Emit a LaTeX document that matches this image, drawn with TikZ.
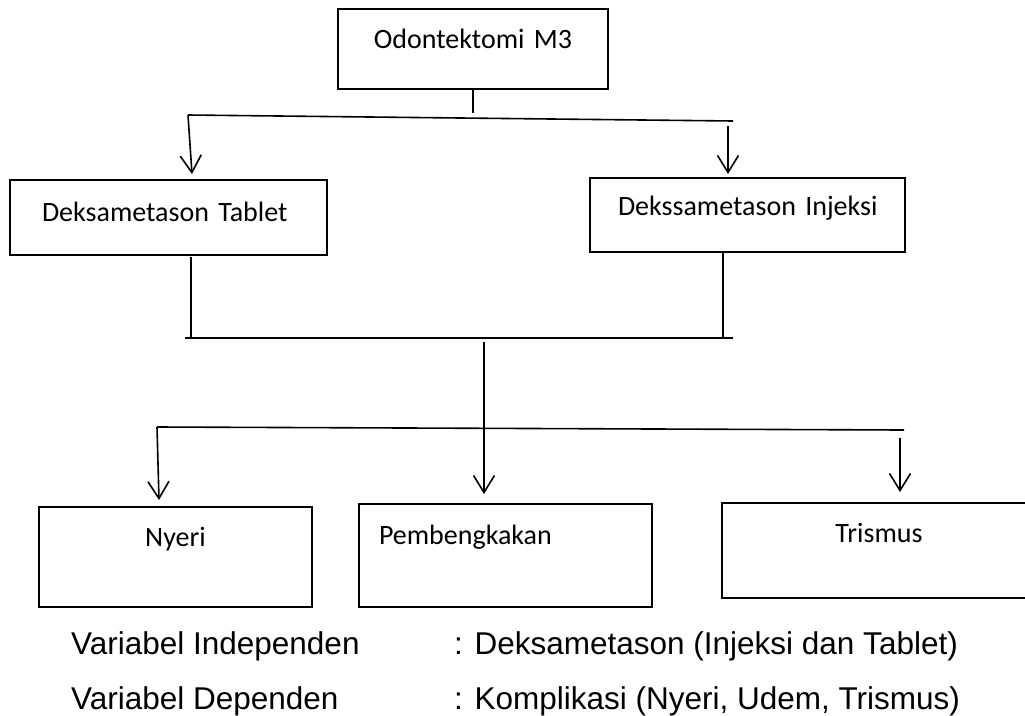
\documentclass[tikz,border=0pt]{standalone}
\usepackage{fontspec}
\setmainfont{Carlito}
\newfontfamily\legendfont{Liberation Sans}
\usepackage{tikz}
\usetikzlibrary{arrows.meta}
\tikzset{
  base/.style={font=\fontsize{28}{34}\selectfont, inner sep=0pt, text=black},
  box/.style={base, rectangle, draw=black, fill=white, line width=1.8pt},
  ln/.style={line width=1.6pt, draw=black},
  arr/.style={ln, -{Straight Barb[length=17pt,width=21pt,line width=1.6pt]}},
  legend/.style={font=\legendfont\fontsize{31.5}{38}\selectfont, inner sep=0pt, anchor=base west},
}

\begin{document}
\begin{tikzpicture}[x=1pt,y=-1pt]
  \useasboundingbox (0,0) rectangle (1025,715);
  \node[box,text width=270pt,align=center,text height=39pt,text depth=41pt] (odonto) at (473,49) {Odontektomi M3};
  \node[box,inner xsep=32pt,text width=253pt,align=left,text height=41pt,text depth=34pt] (tablet) at (168.5,217.5) {\mbox{Deksametason Tablet}};
  \node[box,inner xsep=28pt,text width=259pt,align=left,text height=37pt,text depth=37pt] (injeksi) at (747.5,215) {\mbox{Dekssametason Injeksi}};
  \node[box,text width=273pt,align=center,text height=39pt,text depth=61pt] (nyeri) at (175.5,557) {Nyeri};
  \node[box,inner xsep=20pt,text width=253pt,align=left,text height=40pt,text depth=63pt] (bengkak) at (505.5,555.5) {Pembengkakan};
  \node[box,text width=314pt,align=center,text height=39pt,text depth=56pt] (trismus) at (879,550.5) {Trismus};
  % top branch
  \coordinate (s0) at (473,113);
  \coordinate (ta) at (188,115);
  \coordinate (tb) at (733,121);
  \coordinate (tabtop) at (192,174);
  \coordinate (injsrc) at (728,126);
  \coordinate (injtop) at (728,174);
  \draw[ln] (odonto) -- (s0);
  \draw[ln] (ta) -- (tb);
  \draw[arr] (ta) -- (tabtop);
  \draw[arr] (injsrc) -- (injtop);
  % joining bar
  \coordinate (ma) at (185,338);
  \coordinate (mb) at (733,338);
  \coordinate (tabbot) at (191,257);
  \coordinate (injbot) at (723,252);
  \draw[ln] (tabbot) -- (tabbot |- ma);
  \draw[ln] (injbot) -- (injbot |- mb);
  \draw[ln] (ma) -- (mb);
  % lower branch
  \coordinate (mc) at (484,342);
  \coordinate (bengtop) at (484,494);
  \coordinate (la) at (157,427);
  \coordinate (lb) at (904,430);
  \coordinate (nyetop) at (159,500);
  \coordinate (trisrc) at (900,438);
  \coordinate (tritop) at (900,492);
  \draw[ln] (la) -- (lb);
  \draw[arr] (mc) -- (bengtop);
  \draw[arr] (la) -- (nyetop);
  \draw[arr] (trisrc) -- (tritop);
  % legend
  \node[legend] (indep) at (71,654) {Variabel Independen};
  \node[legend] (indepval) at (454,654) {: Deksametason (Injeksi dan Tablet)};
  \node[legend] (dep) at (71,709) {Variabel Dependen};
  \node[legend] (depval) at (454,709) {: Komplikasi (Nyeri, Udem, Trismus)};
\end{tikzpicture}
\end{document}
